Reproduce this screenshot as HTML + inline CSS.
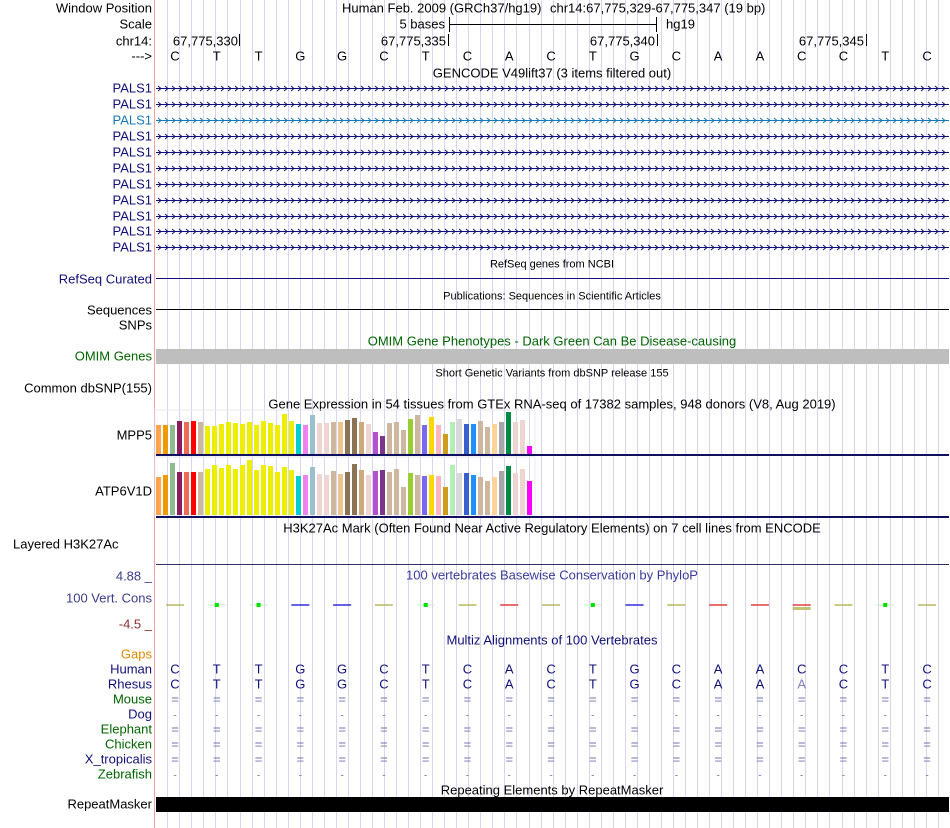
<!DOCTYPE html>
<html><head><meta charset="utf-8"><style>
html,body{margin:0;padding:0;background:#fff;}
svg{display:block;font-family:"Liberation Sans",sans-serif;}
</style></head><body>
<svg id="s" width="950" height="828" xmlns="http://www.w3.org/2000/svg">
<rect width="950" height="828" fill="#fff"/>
<g id="grid"></g>
<line x1="154.5" y1="0" x2="154.5" y2="828" stroke="#f4a0a0" stroke-width="1"/>
<g id="main" font-size="13" fill="#000"></g>
</svg>
<script>
const NS="http://www.w3.org/2000/svg";
const g=document.getElementById('main'), grid=document.getElementById('grid');
function el(tag,attrs,text,parent){const e=document.createElementNS(NS,tag);for(const k in attrs)e.setAttribute(k,attrs[k]);if(text!=null)e.textContent=text;(parent||g).appendChild(e);return e;}
for(let x=167.3;x<950;x+=12.04){el('line',{x1:Math.round(x)+0.5,y1:0,x2:Math.round(x)+0.5,y2:828,stroke:'#d6d6f2','stroke-width':1},null,grid);}
function L(t,y,c,fs){el('text',{x:152,y:y+4.5,'text-anchor':'end',fill:c||'#000','font-size':fs||13},t);}
function C(t,x,y,c,fs){el('text',{x:x,y:y+4.5,'text-anchor':'middle',fill:c||'#000','font-size':fs||13},t);}
L('Window Position',8);L('Scale',24);L('chr14:',41);L('--->',56);
const py=[88,104,120,136,152,168,184,200,216,231,247];
py.forEach((y,i)=>L('PALS1',y,i==2?'#1878b8':'#101078'));
L('RefSeq Curated',279,'#101078');L('Sequences',310);L('SNPs',325);
L('OMIM Genes',356,'#006400');L('Common dbSNP(155)',388);
L('MPP5',435);L('ATP6V1D',491);
el('text',{x:13,y:548.5,'font-size':13},'Layered H3K27Ac');
L('4.88 _',576,'#3c3c8c');L('100 Vert. Cons',598,'#3c3c8c');L('-4.5 _',624,'#8c3030');
L('Gaps',654,'#e08a00');L('Human',669,'#101078');L('Rhesus',684,'#101078');
L('Mouse',699,'#006400');L('Dog',714,'#101078');L('Elephant',729,'#006400');
L('Chicken',744,'#006400');L('X_tropicalis',759,'#101078');L('Zebrafish',774,'#006400');
L('RepeatMasker',804);
el('text',{x:342,y:12.5},'Human Feb. 2009 (GRCh37/hg19)');
el('text',{x:550,y:12.5},'chr14:67,775,329-67,775,347 (19 bp)');
el('text',{x:445,y:28.5,'text-anchor':'end'},'5 bases');
el('line',{x1:449,y1:24.5,x2:656,y2:24.5,stroke:'#000'});
el('line',{x1:449.5,y1:17,x2:449.5,y2:32,stroke:'#000'});
el('line',{x1:656.5,y1:17,x2:656.5,y2:32,stroke:'#000'});
el('text',{x:666,y:28.5},'hg19');
[[238,239.5],[446,448.5],[655,657.5],[864,866.5]].forEach((p,i)=>{
 el('text',{x:p[0],y:45.5,'text-anchor':'end'},['67,775,330','67,775,335','67,775,340','67,775,345'][i]);
 el('line',{x1:p[1],y1:34,x2:p[1],y2:46,stroke:'#000'});});
const bases='CTTGGCTCACTGCAACCTC';
const bx=i=>175+41.78*i;
for(let i=0;i<19;i++)C(bases[i],bx(i),56);
C('GENCODE V49lift37 (3 items filtered out)',552,73);
py.forEach((y,i)=>{const col=i==2?'#1878b8':'#101078';
 el('line',{x1:156,y1:y+0.5,x2:949,y2:y+0.5,stroke:col});
 let d='';for(let x=158;x<947;x+=7)d+=`M${x} ${y-2}L${x+3} ${y+0.5}L${x} ${y+3}`;
 el('path',{d:d,stroke:col,fill:'none','stroke-width':1});});
C('RefSeq genes from NCBI',552,263,'#000',11);
el('line',{x1:156,y1:278.5,x2:949,y2:278.5,stroke:'#101078'});
C('Publications: Sequences in Scientific Articles',552,295,'#000',11);
el('line',{x1:156,y1:309.5,x2:949,y2:309.5,stroke:'#000'});
C('OMIM Gene Phenotypes - Dark Green Can Be Disease-causing',552,341,'#006400');
el('rect',{x:156,y:349,width:793,height:15,fill:'#bebebe'});
C('Short Genetic Variants from dbSNP release 155',552,372,'#000',11);
C('Gene Expression in 54 tissues from GTEx RNA-seq of 17382 samples, 948 donors (V8, Aug 2019)',552,404);
const cols=['#FFA54F','#EE9A00','#8FBC8F','#8B1C62','#EE6A50','#FF0000','#CDB79E','#EEEE00','#EEEE00','#EEEE00','#EEEE00','#EEEE00','#EEEE00','#EEEE00','#EEEE00','#EEEE00','#EEEE00','#EEEE00','#EEEE00','#EEEE00','#00CDCD','#EE82EE','#9AC0CD','#EED5D2','#EED5D2','#CDB79E','#EEC591','#8B7355','#8B7355','#CDAA7D','#EED5D2','#B452CD','#7A378B','#CDB79E','#CDB79E','#CDB79E','#9ACD32','#CDB79E','#7B68EE','#FFD700','#FFB6C1','#CD9B1D','#B4EEB4','#D9D9D9','#3A5FCD','#1E90FF','#CDB79E','#CDB79E','#FFD39B','#A6A6A6','#008B45','#EED5D2','#EED5D2','#FF00FF'];
const h1=[60,60,60,48,51,48,51,63,63,57,51,54,57,51,60,48,54,60,27,48,57,60,30,54,54,51,51,45,39,51,57,81,93,54,51,75,42,30,60,36,60,87,51,42,57,57,48,66,57,51,21,51,45,123];
const h2=[216,210,174,201,201,201,201,192,180,189,180,192,180,165,195,180,183,201,186,195,213,210,186,207,210,198,207,201,177,195,210,198,195,201,192,246,204,210,213,210,213,246,180,204,204,210,216,228,216,198,183,204,192,228];
el('rect',{x:155,y:410,width:380,height:44,fill:'none',stroke:'#e8e8f0'});
el('rect',{x:155,y:457,width:380,height:59,fill:'none',stroke:'#e8e8f0'});
for(let i=0;i<54;i++){const x=156+7*i;
 let t=405+h1[i]/3;el('rect',{x:x,y:t,width:5,height:454-t,fill:cols[i]});
 t=405+h2[i]/3;el('rect',{x:x,y:t,width:5,height:515-t,fill:cols[i]});}
el('rect',{x:156,y:454,width:793,height:2,fill:'#101060'});
el('rect',{x:156,y:516,width:793,height:2,fill:'#101060'});
C('H3K27Ac Mark (Often Found Near Active Regulatory Elements) on 7 cell lines from ENCODE',552,528);
el('line',{x1:156,y1:564.5,x2:949,y2:564.5,stroke:'#303060'});
C('100 vertebrates Basewise Conservation by PhyloP',552,575,'#3c3c9c');
const pc={C:'#b4b450',T:'#00e000',G:'#2020e0',A:'#e03030'};
for(let i=0;i<19;i++){const b=bases[i];const x=bx(i);let c=pc[b];if(i==15)c='#e03030';
 if(b=='T'){el('line',{x1:x-9,y1:605,x2:x+9,y2:605,stroke:'#c0f0c0'});el('rect',{x:x-2,y:603,width:4,height:4,fill:'#00e000'});}
 else el('rect',{x:x-9,y:604,width:18,height:2,fill:c,opacity:0.7});
 if(i==15)el('rect',{x:x-9,y:607,width:18,height:3,fill:'#b4b450',opacity:0.8});}
C('Multiz Alignments of 100 Vertebrates',552,640,'#101078');
for(let i=0;i<19;i++){const x=bx(i);
 C(bases[i],x,669,'#101078');C(i==15?'A':bases[i],x,684,i==15?'#8080c0':'#101078');
 C('=',x,699,'#7070b0');C('-',x,714,'#7070b0',10);C('=',x,729,'#7070b0');C('=',x,744,'#7070b0');C('=',x,759,'#7070b0');C('-',x,774,'#7070b0',10);}
el('rect',{x:156,y:797,width:793,height:15,fill:'#000'});
C('Repeating Elements by RepeatMasker',552,790);
</script>
</body></html>
